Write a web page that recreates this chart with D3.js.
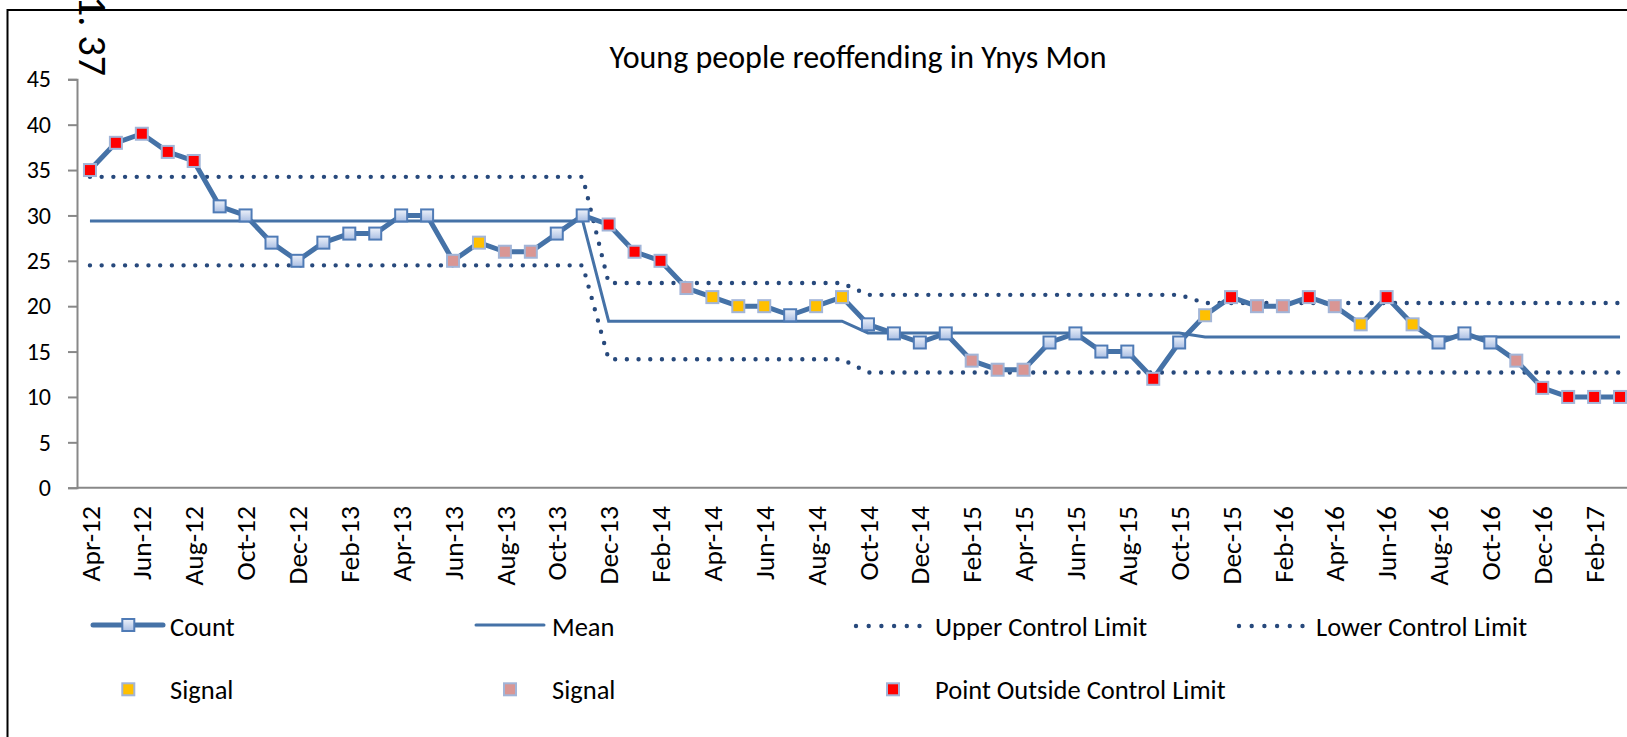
<!DOCTYPE html>
<html>
<head>
<meta charset="utf-8">
<script src="https://cdn.jsdelivr.net/npm/d3@7"></script>
<style>
  html, body { margin: 0; padding: 0; background: #fff; }
  svg { display: block; }
  text { font-family: Carlito, Lato, "Open Sans", sans-serif; fill: #000; }
</style>
</head>
<body>
<svg id="chart" width="1627" height="737"></svg>
<script>
// Monthly categories, April 2012 to March 2017
const months = [
  "Apr-12","May-12","Jun-12","Jul-12","Aug-12","Sep-12","Oct-12","Nov-12","Dec-12","Jan-13","Feb-13","Mar-13",
  "Apr-13","May-13","Jun-13","Jul-13","Aug-13","Sep-13","Oct-13","Nov-13","Dec-13","Jan-14","Feb-14","Mar-14",
  "Apr-14","May-14","Jun-14","Jul-14","Aug-14","Sep-14","Oct-14","Nov-14","Dec-14","Jan-15","Feb-15","Mar-15",
  "Apr-15","May-15","Jun-15","Jul-15","Aug-15","Sep-15","Oct-15","Nov-15","Dec-15","Jan-16","Feb-16","Mar-16",
  "Apr-16","May-16","Jun-16","Jul-16","Aug-16","Sep-16","Oct-16","Nov-16","Dec-16","Jan-17","Feb-17","Mar-17"
];

// Young people reoffending count per month
const counts = [
  35,38,39,37,36,31,30,27,25,27,28,28,
  30,30,25,27,26,26,28,30,29,26,25,22,
  21,20,20,19,20,21,18,17,16,17,14,13,
  13,16,17,15,15,12,16,19,21,20,20,21,
  20,18,21,18,16,17,16,14,11,10,10,10
];

// Process mean, recalculated at each phase change
const mean = [
  29.4,29.4,29.4,29.4,29.4,29.4,29.4,29.4,29.4,29.4,29.4,29.4,
  29.4,29.4,29.4,29.4,29.4,29.4,29.4,29.4,18.35,18.35,18.35,18.35,
  18.35,18.35,18.35,18.35,18.35,18.35,17.05,17.05,17.05,17.05,17.05,17.05,
  17.05,17.05,17.05,17.05,17.05,17.05,17.05,16.6,16.6,16.6,16.6,16.6,
  16.6,16.6,16.6,16.6,16.6,16.6,16.6,16.6,16.6,16.6,16.6,16.6
];

// Upper control limit
const ucl = [
  34.25,34.25,34.25,34.25,34.25,34.25,34.25,34.25,34.25,34.25,34.25,34.25,
  34.25,34.25,34.25,34.25,34.25,34.25,34.25,34.25,22.55,22.55,22.55,22.55,
  22.55,22.55,22.55,22.55,22.55,22.55,21.25,21.25,21.25,21.25,21.25,21.25,
  21.25,21.25,21.25,21.25,21.25,21.25,21.25,20.35,20.35,20.35,20.35,20.35,
  20.35,20.35,20.35,20.35,20.35,20.35,20.35,20.35,20.35,20.35,20.35,20.35
];

// Lower control limit
const lcl = [
  24.5,24.5,24.5,24.5,24.5,24.5,24.5,24.5,24.5,24.5,24.5,24.5,
  24.5,24.5,24.5,24.5,24.5,24.5,24.5,24.5,14.15,14.15,14.15,14.15,
  14.15,14.15,14.15,14.15,14.15,14.15,12.7,12.7,12.7,12.7,12.7,12.7,
  12.7,12.7,12.7,12.7,12.7,12.7,12.7,12.7,12.7,12.7,12.7,12.7,
  12.7,12.7,12.7,12.7,12.7,12.7,12.7,12.7,12.7,12.7,12.7,12.7
];

// Point flags: "out" = outside control limit, "sigA" = signal (amber), "sigB" = signal (rose), "" = none
const flags = [
  "out","out","out","out","out","","","","","","","",
  "","","sigB","sigA","sigB","sigB","","","out","out","out","sigB",
  "sigA","sigA","sigA","","sigA","sigA","","","","","sigB","sigB",
  "sigB","","","","","out","","sigA","out","sigB","sigB","out",
  "sigB","sigA","out","sigA","","","","sigB","out","out","out","out"
];

const yTicks = [0,5,10,15,20,25,30,35,40,45];
const title = "Young people reoffending in Ynys Mon";

const lineBlue = "#4572A7";
const dotBlue = "#27497C";
const flagFill = { out: "#FF0000", sigA: "#FFC000", sigB: "#D99694" };
const flagStroke = "#A2B5D8";

const svg = d3.select("#chart");

const defs = svg.append("defs");
const grad = defs.append("linearGradient")
  .attr("id", "markerGrad").attr("x1", 0).attr("y1", 0).attr("x2", 0).attr("y2", 1);
grad.append("stop").attr("offset", "0%").attr("stop-color", "#EEF2FA");
grad.append("stop").attr("offset", "100%").attr("stop-color", "#A9BEE3");

// Outer chart frame (left and top edges)
svg.append("path")
  .attr("d", "M7.5,737 L7.5,10 L1627,10")
  .attr("fill", "none").attr("stroke", "#000").attr("stroke-width", 2);

// Rotated caption fragment in the corner
svg.append("text")
  .attr("transform", "translate(79,76) rotate(90)")
  .attr("text-anchor", "end")
  .style("font-size", "40px")
  .text("1. 37");

// Scales
const x = d3.scaleBand().domain(months).range([77, 1633]).padding(0);
const cx = m => x(m) + x.bandwidth() / 2;
const y = d3.scaleLinear().domain([0, 45]).range([487.7, 79.3]);

// Title
svg.append("text")
  .attr("x", 858).attr("y", 67.5)
  .attr("text-anchor", "middle")
  .style("font-size", "32px")
  .text(title);

// Y axis
const yAxis = svg.append("g")
  .attr("transform", "translate(77,0)")
  .call(d3.axisLeft(y).tickValues(yTicks).tickSize(9).tickPadding(17).tickFormat(d3.format("d")));
yAxis.select(".domain").attr("stroke", "#888").attr("stroke-width", 2);
yAxis.selectAll(".tick line").attr("stroke", "#888").attr("stroke-width", 2);
yAxis.selectAll(".tick text")
  .style("font-size", "24px")
  .style("font-family", "Carlito, Lato, sans-serif")
  .attr("fill", "#000");

// X axis line and every other month label
svg.append("line")
  .attr("x1", 77).attr("x2", 1633)
  .attr("y1", y(0)).attr("y2", y(0))
  .attr("stroke", "#888").attr("stroke-width", 2);

svg.append("g").selectAll("text")
  .data(months.filter((m, i) => i % 2 === 0))
  .join("text")
  .attr("transform", d => `translate(${cx(d)},506) rotate(-90)`)
  .attr("text-anchor", "end")
  .attr("dy", "0.35em")
  .style("font-size", "27.5px")
  .text(d => d);

// Series data
const rows = months.map((m, i) => ({ m, c: counts[i], mean: mean[i], ucl: ucl[i], lcl: lcl[i], f: flags[i] }));

const dotted = sel => sel
  .attr("fill", "none")
  .attr("stroke", dotBlue)
  .attr("stroke-width", 4.4)
  .attr("stroke-linecap", "round")
  .attr("stroke-dasharray", "0 11.7");

// Control limits
svg.append("path").datum(rows)
  .attr("d", d3.line().x(d => cx(d.m)).y(d => y(d.ucl)))
  .call(dotted);
svg.append("path").datum(rows)
  .attr("d", d3.line().x(d => cx(d.m)).y(d => y(d.lcl)))
  .call(dotted);

// Mean
svg.append("path").datum(rows)
  .attr("d", d3.line().x(d => cx(d.m)).y(d => y(d.mean)))
  .attr("fill", "none").attr("stroke", lineBlue).attr("stroke-width", 3);

// Count line
svg.append("path").datum(rows)
  .attr("d", d3.line().x(d => cx(d.m)).y(d => y(d.c)))
  .attr("fill", "none").attr("stroke", lineBlue).attr("stroke-width", 5)
  .attr("stroke-linejoin", "round");

// Markers
const ms = 12;
svg.append("g").selectAll("rect")
  .data(rows)
  .join("rect")
  .attr("x", d => cx(d.m) - ms / 2)
  .attr("y", d => y(d.c) - ms / 2)
  .attr("width", ms).attr("height", ms)
  .attr("fill", d => d.f ? flagFill[d.f] : "url(#markerGrad)")
  .attr("stroke", d => d.f ? flagStroke : "#4F7BB6")
  .attr("stroke-width", 2);

// Legend
const lg = svg.append("g");
const lgText = (tx, ty, label) => lg.append("text")
  .attr("x", tx).attr("y", ty)
  .style("font-size", "26.5px")
  .text(label);

// Row 1
lg.append("line").attr("x1", 93).attr("x2", 163).attr("y1", 625).attr("y2", 625)
  .attr("stroke", lineBlue).attr("stroke-width", 5).attr("stroke-linecap", "round");
lg.append("rect").attr("x", 128.3 - ms / 2).attr("y", 625 - ms / 2).attr("width", ms).attr("height", ms)
  .attr("fill", "url(#markerGrad)").attr("stroke", "#4F7BB6").attr("stroke-width", 2);
lgText(170, 636, "Count");

lg.append("line").attr("x1", 476).attr("x2", 544).attr("y1", 625).attr("y2", 625)
  .attr("stroke", lineBlue).attr("stroke-width", 3).attr("stroke-linecap", "round");
lgText(552, 636, "Mean");

lg.append("line").attr("x1", 856).attr("x2", 920).attr("y1", 626).attr("y2", 626).call(dotted)
  .attr("stroke-dasharray", "0 12.7");
lgText(935, 636, "Upper Control Limit");

lg.append("line").attr("x1", 1239).attr("x2", 1303).attr("y1", 626).attr("y2", 626).call(dotted)
  .attr("stroke-dasharray", "0 12.7");
lgText(1316, 636, "Lower Control Limit");

// Row 2
const lgMarker = (mx, key) => lg.append("rect")
  .attr("x", mx - ms / 2).attr("y", 689.3 - ms / 2).attr("width", ms).attr("height", ms)
  .attr("fill", flagFill[key]).attr("stroke", flagStroke).attr("stroke-width", 2);

lgMarker(128.3, "sigA");
lgText(170, 699, "Signal");
lgMarker(510, "sigB");
lgText(552, 699, "Signal");
lgMarker(893, "out");
lgText(935, 699, "Point Outside Control Limit");
</script>
</body>
</html>
